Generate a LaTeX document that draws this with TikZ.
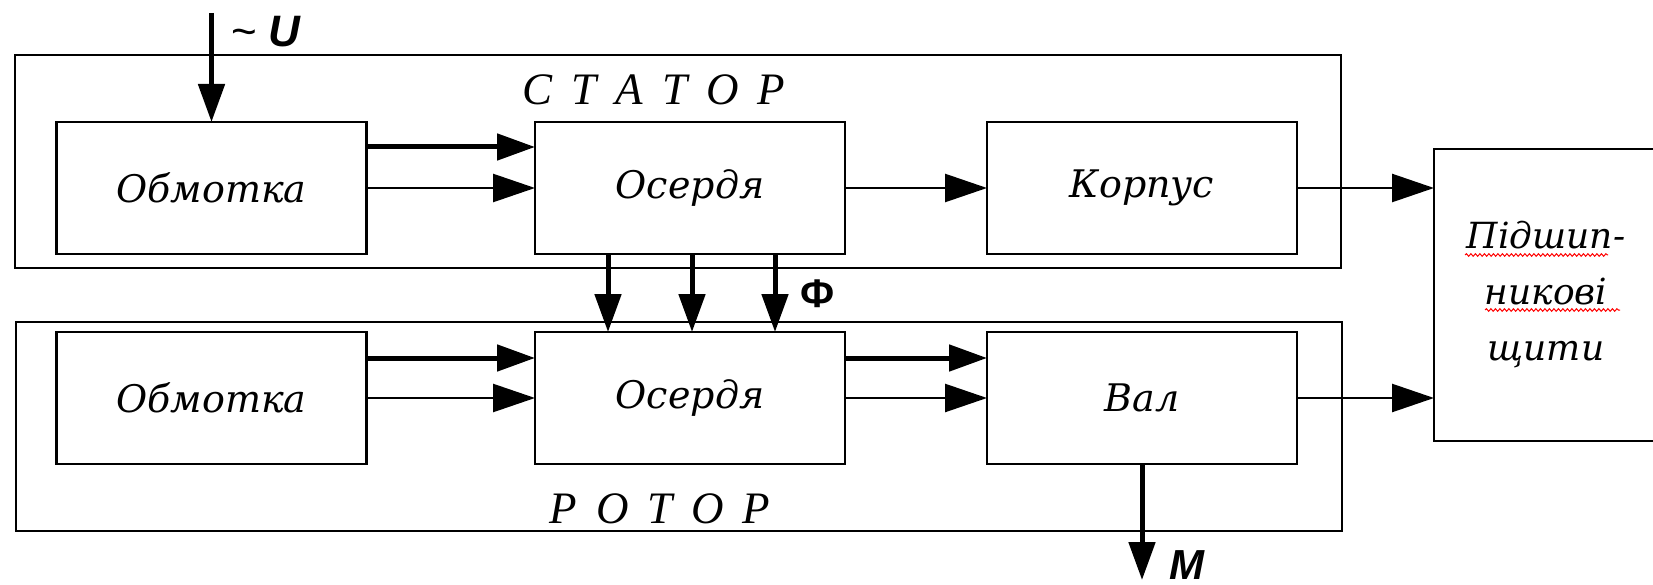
\documentclass[tikz,border=0pt]{standalone}
\usepackage{fontspec}
\setmainfont{Liberation Serif}
\newfontfamily\boxfont{DejaVu Serif}
\newfontfamily\labelsans{Liberation Sans}
\usetikzlibrary{arrows.meta,decorations.pathmorphing}
\newcommand{\lsp}{\hspace{0.42em}}

\begin{document}
\begin{tikzpicture}[x=1pt,y=-1pt,
  unit/.style={draw,line width=2.5pt,minimum width=310pt,minimum height=132pt,
    inner sep=0pt,outer sep=0pt,font=\fontsize{38}{50}\selectfont\boxfont\itshape},
  group/.style={draw,line width=2.5pt,inner sep=0pt,outer sep=0pt},
  title/.style={font=\fontsize{45}{50}\selectfont\itshape},
  signal/.style={font=\fontsize{40}{48}\selectfont\labelsans\bfseries},
  thinarr/.style={line width=2.5pt,-{Triangle[length=42pt,width=28pt]}},
  thickarr/.style={line width=5pt,-{Triangle[length=38pt,width=26pt]}},
  spell/.style={red,line width=1pt,decorate,
    decoration={snake,amplitude=1.3pt,segment length=4.5pt}}
]
\useasboundingbox (0,0) rectangle (1653,585);

% stator and rotor groups
\node[group,minimum width=1326pt,minimum height=213pt] (stator) at (678,161.5) {};
\node[group,minimum width=1326pt,minimum height=209pt] (rotor) at (679,426.5) {};
\node[title] (statorlbl) at (654,90) {С\lsp Т\lsp А\lsp Т\lsp О\lsp Р};
\node[title] (rotorlbl) at (660,509) {Р\lsp О\lsp Т\lsp О\lsp Р};

% stator units
\node[unit] (sw) at (211.5,188) {Обмотка};
\node[unit] (sc) at (690,188) {Осердя};
\node[unit] (sk) at (1142,188) {Корпус};

% rotor units
\node[unit] (rw) at (211.5,398) {Обмотка};
\node[unit] (rc) at (690,398) {Осердя};
\node[unit] (rv) at (1142,398) {Вал};

% bearing shields
\node[draw,line width=2.5pt,minimum width=224pt,minimum height=292pt,inner sep=0pt,
  outer sep=0pt,align=center,font=\fontsize{36}{56}\selectfont\boxfont\itshape]
  (shield) at (1546,295) {Підшип-\\никові\\щити};
\draw[spell] ([shift={(-81,-40)}]shield.center) -- ([shift={(62,-40)}]shield.center);
\draw[spell] ([shift={(-61,15)}]shield.center) -- ([shift={(74,15)}]shield.center);

% supply voltage
\coordinate (uin) at (211.5,13);
\draw[thickarr] (uin) -- (sw.north);
\node[signal,anchor=west,font=\fontsize{44}{48}\selectfont\labelsans] (ulbl) at (228,32)
  {\textasciitilde\hspace{0.25em}\bfseries\itshape U};

% stator links
\draw[thickarr] ([yshift=41pt]sw.east) -- ([yshift=41pt]sc.west);
\draw[thinarr] (sw.east) -- (sc.west);
\draw[thinarr] (sc.east) -- (sk.west);
\draw[thinarr] (sk.east) -- (sk.east -| shield.west);

% magnetic flux
\draw[thickarr] ([xshift=-82pt]sc.south) -- ([xshift=-82pt]rc.north);
\draw[thickarr] ([xshift=2pt]sc.south) -- ([xshift=2pt]rc.north);
\draw[thickarr] ([xshift=85pt]sc.south) -- ([xshift=85pt]rc.north);
\node[signal] (flux) at (818,294) {Ф};

% rotor links
\draw[thickarr] ([yshift=40pt]rw.east) -- ([yshift=40pt]rc.west);
\draw[thinarr] (rw.east) -- (rc.west);
\draw[thickarr] ([yshift=40pt]rc.east) -- ([yshift=40pt]rv.west);
\draw[thinarr] (rc.east) -- (rv.west);
\draw[thinarr] (rv.east) -- (rv.east -| shield.west);

% torque output
\coordinate (mout) at (1142,580);
\draw[thickarr] (rv.south) -- (mout);
\node[signal,font=\fontsize{42}{48}\selectfont\labelsans\bfseries] (mlbl) at (1187,565) {\itshape M};
\end{tikzpicture}
\end{document}
